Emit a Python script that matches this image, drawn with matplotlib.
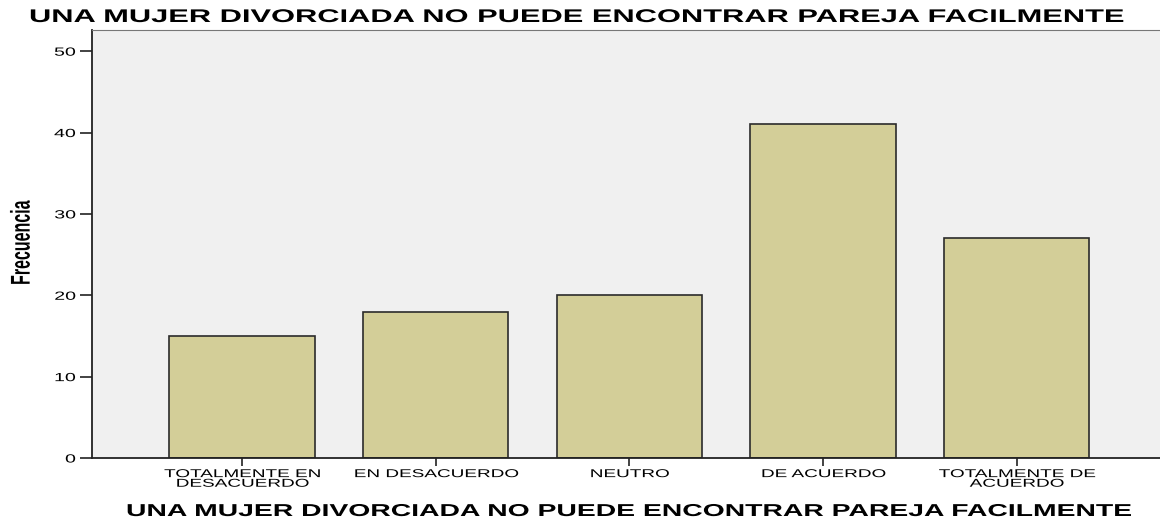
import matplotlib
matplotlib.use("Agg")
import matplotlib.pyplot as plt
from matplotlib.patheffects import AbstractPathEffect
from matplotlib.transforms import Affine2D

categories = ["TOTALMENTE EN\nDESACUERDO", "EN DESACUERDO", "NEUTRO", "DE ACUERDO", "TOTALMENTE DE\nACUERDO"]
values = [15, 18, 20, 41, 27]
yticks = [0, 10, 20, 30, 40, 50]
title = "UNA MUJER DIVORCIADA NO PUEDE ENCONTRAR PAREJA FACILMENTE"
ylabel = "Frecuencia"


class HStretch(AbstractPathEffect):
    """Stretch glyphs horizontally about a fixed x (text stays a Text artist)."""
    def __init__(self, sx, cx):
        super().__init__()
        self.sx = sx
        self.cx = cx

    def draw_path(self, renderer, gc, tpath, affine, rgbFace=None):
        aff = affine + Affine2D().translate(-self.cx, 0).scale(self.sx, 1).translate(self.cx, 0)
        renderer.draw_path(gc, tpath, aff, rgbFace)


plt.rcParams['font.family'] = ['Liberation Sans', 'DejaVu Sans']
H = 521

fig = plt.figure(figsize=(11.6, 5.21), dpi=100)
ax = fig.add_axes([92/1160, 1-458/H, 1-92/1160, (458-30)/H])
ax.set_facecolor("#F0F0F0")
x = list(range(len(values)))
ax.bar(x, values, width=0.75, color="#D3CE98", edgecolor="#2b2b2b", linewidth=1.2)
ax.set_xlim(-0.775, 4.74)
ax.set_ylim(0, 52.6)
ax.set_yticks(yticks)
ax.set_xticks(x)
ax.set_xticklabels(categories, fontsize=8.2, linespacing=0.95)
ax.tick_params(axis='y', length=8.5, width=1.2, color="#222222", labelsize=8.5, pad=3)
ax.tick_params(axis='x', length=6, width=1.2, color="#222222", pad=2)
for s in ['left', 'bottom']:
    ax.spines[s].set_color("#222222")
    ax.spines[s].set_linewidth(1.3)
ax.spines['top'].set_color("#777777")
ax.spines['right'].set_visible(False)

t_title = fig.text(0.5, 1-22/H, title, fontsize=13.2, fontweight='bold',
                   ha='center', va='baseline')
t_xlab = fig.text(0.5, 1-516/H, title, fontsize=12.4, fontweight='bold',
                  ha='center', va='baseline')
t_ylab = fig.text(22/1160, 1-242.5/H, ylabel, fontsize=11.5, fontweight='bold',
                  rotation=90, ha='center', va='center')

fig.canvas.draw()
r = fig.canvas.get_renderer()


def fit_h(t, left, right):
    bb = t.get_window_extent(r)
    sx = (right - left) / bb.width
    c = (left + right) / 2
    t.set_x(c / 1160)
    t.set_path_effects([HStretch(sx, c)])


fit_h(t_title, 29, 1128)
fit_h(t_xlab, 126, 1132)

# y label: set length to ~85 px, thicken horizontally
bb = t_ylab.get_window_extent(r)
t_ylab.set_fontsize(11.5 * 85 / bb.height)
t_ylab.set_path_effects([HStretch(1.7, 22)])

# x tick labels: common stretch from the first label width (ref ~156 px)
labs = ax.get_xticklabels()
sx_tick = 156 / labs[0].get_window_extent(r).width
for lab in labs:
    cx = ax.transData.transform((lab.get_position()[0], 0))[0]
    lab.set_path_effects([HStretch(sx_tick, cx)])

# y tick labels: "50" ~22 px wide in the reference, right edge kept
ylabs = ax.get_yticklabels()
w50 = [l for l in ylabs if l.get_text() == "50"][0].get_window_extent(r).width
sx_y = 22 / w50
for lab in ylabs:
    x1 = lab.get_window_extent(r).x1
    lab.set_path_effects([HStretch(sx_y, x1)])

fig.savefig("out.png", dpi=100)
